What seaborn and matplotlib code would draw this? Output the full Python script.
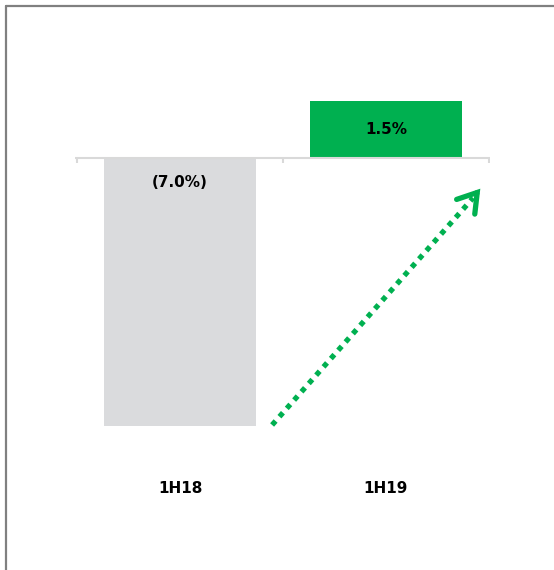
import matplotlib
matplotlib.use("Agg")
import matplotlib.pyplot as plt
from matplotlib.lines import Line2D
import seaborn as sns
import pandas as pd

categories = ["1H18", "1H19"]
values = [-7.0, 1.5]
value_labels = ["(7.0%)", "1.5%"]

GRAY = "#dadbdd"
GREEN = "#00b050"
AXIS_GRAY = "#d9d9d9"

sns.set_theme(style="white")
plt.rcParams["font.family"] = ["DejaVu Sans"]

df = pd.DataFrame({"period": categories, "growth": values})

fig = plt.figure(figsize=(5.54, 5.70), dpi=100)
ax = fig.add_axes([75 / 554, 1 - 470 / 570, 415 / 554, 410 / 570])

sns.barplot(data=df, x="period", y="growth", hue="period",
            palette=[GRAY, GREEN], width=0.738, saturation=1,
            legend=False, linewidth=0, edgecolor="none", ax=ax)

ax.set_xlim(-0.51, 1.505)
ax.set_ylim(-8.146, 2.56)

# zero line with category-boundary ticks
ax.axhline(0, color=AXIS_GRAY, lw=1.5, zorder=3)
ax.vlines([-0.5, 0.5, 1.5], -0.13, 0, color=AXIS_GRAY, lw=1.5, zorder=3)

# value labels
for i, (v, lab) in enumerate(zip(values, value_labels)):
    y = v / 2 if v > 0 else -0.63
    ax.text(i, y, lab, ha="center", va="center", fontsize=11,
            fontweight="bold", color="black")

# decorative dotted arrow
x0, y0 = 0.447, -6.97
x1, y1 = 1.458, -0.80
ax.plot([x0, x1 - 0.035], [y0, y1 - 0.24], color=GREEN, lw=3.8,
        linestyle=(0, (1.0, 1.1)), solid_capstyle="butt",
        dash_capstyle="butt", zorder=4)
ax.annotate("", xy=(x1, y1), xytext=(x1 - 0.02, y1 - 0.133),
            arrowprops=dict(arrowstyle="->,head_length=1.1,head_width=0.7",
                            color=GREEN, lw=3.8, capstyle="round",
                            joinstyle="miter", shrinkA=0, shrinkB=0),
            zorder=5)

ax.set_xlabel("")
ax.set_ylabel("")
ax.set_yticks([])
ax.tick_params(axis="x", length=0, pad=8, labelsize=11, labelcolor="black")
for t in ax.get_xticklabels():
    t.set_fontweight("bold")
for s in ax.spines.values():
    s.set_visible(False)

# frame lines (left and top) of the slide
fig.add_artist(Line2D([5.5 / 554, 5.5 / 554], [0, 1 - 5.5 / 570],
                      transform=fig.transFigure, color="#808080", lw=1.6))
fig.add_artist(Line2D([5.5 / 554, 1.01], [1 - 5.5 / 570, 1 - 5.5 / 570],
                      transform=fig.transFigure, color="#808080", lw=1.6))

fig.savefig("out.png", dpi=100)
